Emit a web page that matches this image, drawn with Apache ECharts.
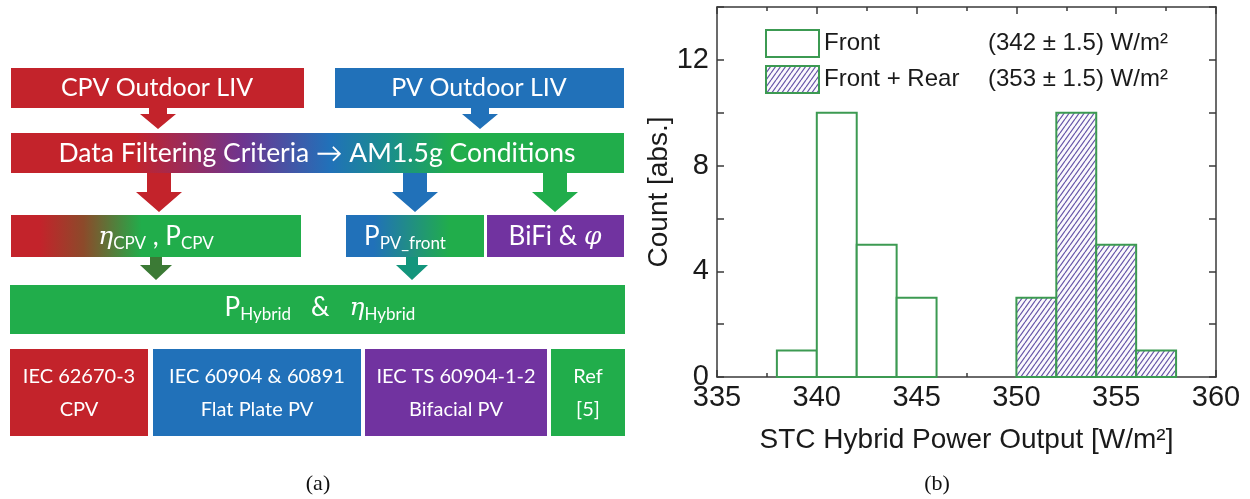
<!DOCTYPE html>
<html>
<head>
<meta charset="utf-8">
<title>STC hybrid power output</title>
<script src="https://cdn.jsdelivr.net/npm/echarts@6.0.0/dist/echarts.min.js"></script>
<style>
  html, body { margin: 0; padding: 0; background: #fff; }
  #chart { width: 1250px; height: 499px; }
</style>
</head>
<body>
<div id="chart"></div>
<script>
// histogram data, bins of 2 W/m2
const binWidth = 2;
const frontStarts = [338, 340, 342, 344];
const frontCounts = [1, 10, 5, 3];
const rearStarts = [350, 352, 354, 356];
const rearCounts = [3, 10, 5, 1];
const seriesNames = ['Front', 'Front + Rear'];
const seriesMeans = ['(342 ± 1.5) W/m²', '(353 ± 1.5) W/m²'];

// flowchart texts
const topBoxes = ['CPV Outdoor LIV', 'PV Outdoor LIV'];
const filterText = 'Data Filtering Criteria → AM1.5g Conditions';
const standards = [
    ['IEC 62670-3', 'CPV'],
    ['IEC 60904 & 60891', 'Flat Plate PV'],
    ['IEC TS 60904-1-2', 'Bifacial PV'],
    ['Ref', '[5]']
];

const RED = '#c3232b', BLUE = '#2171b9', GREEN = '#21ad4b', PURPLE = '#7133a0';
const BAR_GREEN = '#3c9a52';
const SANS = 'Lato';
const NUM = 'Liberation Sans';

function hatchPattern() {
    const c = document.createElement('canvas');
    c.width = 5; c.height = 7;
    const g = c.getContext('2d');
    g.fillStyle = '#fbf9fd';
    g.fillRect(0, 0, 5, 7);
    g.strokeStyle = '#6656a8';
    g.lineWidth = 1.2;
    g.beginPath();
    g.moveTo(-5, 7); g.lineTo(0, 0);
    g.moveTo(0, 7); g.lineTo(5, 0);
    g.moveTo(5, 7); g.lineTo(10, 0);
    g.stroke();
    return { image: c, repeat: 'repeat' };
}
const hatch = hatchPattern();

function toBins(starts, counts) {
    return starts.map((s, i) => [s, s + binWidth, counts[i]]);
}

function binRenderer(fill) {
    return function (params, api) {
        const top = api.coord([api.value(0), api.value(2)]);
        const bot = api.coord([api.value(1), 0]);
        return {
            type: 'rect',
            shape: { x: top[0], y: top[1], width: bot[0] - top[0], height: bot[1] - top[1] },
            style: { fill: fill, stroke: BAR_GREEN, lineWidth: 2 }
        };
    };
}

// ---- flowchart helpers (panel a) ----
function box(x, y, w, h, fill) {
    return { type: 'rect', shape: { x: x, y: y, width: w, height: h }, style: { fill: fill } };
}
function hGrad(stops) {
    return new echarts.graphic.LinearGradient(0, 0, 1, 0,
        stops.map(s => ({ offset: s[0], color: s[1] })));
}
function arrow(cx, y0, y1, y2, sw, hw, fill) {
    return {
        type: 'polygon',
        shape: { points: [[cx - sw / 2, y0], [cx + sw / 2, y0], [cx + sw / 2, y1], [cx + hw / 2, y1],
            [cx, y2], [cx - hw / 2, y1], [cx - sw / 2, y1]] },
        style: { fill: fill }
    };
}
const richText = {
    m: { fill: '#fff', fontFamily: SANS, fontSize: 26, lineHeight: 30 },
    s: { fill: '#fff', fontFamily: SANS, fontSize: 17, lineHeight: 14, verticalAlign: 'bottom' },
    e: { fill: '#fff', fontFamily: 'DejaVu Serif', fontStyle: 'italic', fontSize: 25, lineHeight: 30 }
};
function label(x, y, text, size, rich) {
    return {
        type: 'text', z: 10,
        style: {
            x: x, y: y, text: text, fill: '#fff', fontFamily: SANS, fontSize: size || 25,
            align: 'center', verticalAlign: 'middle', rich: rich ? richText : undefined,
            lineHeight: 33
        }
    };
}

const flow = [
    box(11, 68, 293, 40, RED),
    box(335, 68, 289, 40, BLUE),
    label(157, 88, topBoxes[0]),
    label(479, 88, topBoxes[1]),
    arrow(158, 108, 114, 129, 18, 36, RED),
    arrow(480, 108, 114, 129, 18, 36, BLUE),

    box(11, 133, 613, 40, hGrad([[0, RED], [0.2, RED], [0.38, '#6d3590'], [0.52, BLUE], [0.62, '#1a8f8a'], [0.72, GREEN], [1, GREEN]])),
    label(317, 153, filterText, 26.5),
    arrow(159, 173, 192, 212, 24, 46, RED),
    arrow(415, 173, 192, 212, 24, 46, BLUE),
    arrow(555, 173, 192, 212, 24, 46, GREEN),

    box(11, 215, 290, 42, hGrad([[0, RED], [0.1, RED], [0.25, '#8c4a2a'], [0.45, GREEN], [1, GREEN]])),
    box(346, 215, 138, 42, hGrad([[0, BLUE], [0.2, BLUE], [0.75, GREEN], [1, GREEN]])),
    box(487, 215, 137, 42, PURPLE),
    label(156, 237, '{e|η}{s|CPV}{m| , P}{s|CPV}', 25, true),
    label(405, 237, '{m|P}{s|PV_front}', 25, true),
    label(555, 237, '{m|BiFi & }{e|φ}', 25, true),
    arrow(156, 257, 265, 280, 12, 32, '#3b7a35'),
    arrow(412, 257, 265, 280, 12, 32, '#13957c'),

    box(10, 285, 615, 49, GREEN),
    label(320, 308, '{m|P}{s|Hybrid}{m|   &   }{e|η}{s|Hybrid}', 25, true),

    box(10, 349, 138, 87, RED),
    box(153, 349, 208, 87, BLUE),
    box(365, 349, 182, 87, PURPLE),
    box(551, 349, 74, 87, GREEN)
];
const stdBoxes = [[10, 138], [153, 208], [365, 182], [551, 74]];
standards.forEach((lines, i) => {
    const b = stdBoxes[i];
    flow.push(label(b[0] + b[1] / 2, 393, lines.join('\n'), 20));
});

flow.push({ type: 'text', style: { x: 318, y: 484, text: '(a)', fontFamily: 'Liberation Serif', fontSize: 22, fill: '#111', align: 'center', verticalAlign: 'middle' } });
flow.push({ type: 'text', style: { x: 937, y: 484, text: '(b)', fontFamily: 'Liberation Serif', fontSize: 22, fill: '#111', align: 'center', verticalAlign: 'middle' } });

// ---- histogram (panel b) ----
const axisColor = '#3a3a3a';
const chart = echarts.init(document.getElementById('chart'), null, { renderer: 'canvas' });

const baseX = {
    type: 'value', min: 335, max: 360, interval: 5,
    axisLine: { show: true, onZero: false, lineStyle: { color: axisColor, width: 1.5 } },
    axisTick: { show: true, inside: true, length: 7, lineStyle: { color: axisColor, width: 1.5 } },
    minorTick: { show: true, splitNumber: 2, length: 4, lineStyle: { color: axisColor, width: 1.5 } },
    splitLine: { show: false }
};
const baseY = {
    type: 'value', min: 0, max: 14, interval: 2,
    axisLine: { show: true, onZero: false, lineStyle: { color: axisColor, width: 1.5 } },
    axisTick: { show: true, inside: true, length: 7, lineStyle: { color: axisColor, width: 1.5 } },
    splitLine: { show: false }
};

const option = {
    backgroundColor: '#fff',
    animation: false,
    grid: { left: 717, right: 34, top: 7, bottom: 122, containLabel: false },
    legend: {
        orient: 'vertical', left: 765, top: 29, padding: 0, itemGap: 7,
        itemWidth: 53, itemHeight: 27,
        data: [
            { name: seriesNames[0], icon: 'rect', itemStyle: { color: '#fff', borderColor: BAR_GREEN, borderWidth: 2 } },
            { name: seriesNames[1], icon: 'rect', itemStyle: { color: hatch, borderColor: BAR_GREEN, borderWidth: 2 } }
        ],
        formatter: function (name) {
            return '{n|' + name + '}{v|' + seriesMeans[seriesNames.indexOf(name)] + '}';
        },
        textStyle: {
            fontFamily: NUM, fontSize: 24, color: '#1a1a1a',
            rich: {
                n: { fontFamily: NUM, fontSize: 24, color: '#1a1a1a', width: 164 },
                v: { fontFamily: NUM, fontSize: 24, color: '#1a1a1a' }
            }
        }
    },
    xAxis: [
        Object.assign({}, baseX, {
            position: 'bottom',
            axisLabel: { fontFamily: NUM, fontSize: 29, color: '#1a1a1a', margin: 6 },
            name: 'STC Hybrid Power Output [W/m²]', nameLocation: 'middle', nameGap: 49,
            nameTextStyle: { fontFamily: NUM, fontSize: 28, color: '#1a1a1a' }
        }),
        Object.assign({}, baseX, { position: 'top', axisLabel: { show: false } })
    ],
    yAxis: [
        Object.assign({}, baseY, {
            position: 'left',
            axisLabel: {
                fontFamily: NUM, fontSize: 29, color: '#1a1a1a', margin: 8,
                formatter: v => (v % 4 === 0 && v < 14 ? String(v) : '')
            },
            name: 'Count [abs.]', nameLocation: 'middle', nameGap: 43,
            nameTextStyle: { fontFamily: NUM, fontSize: 28, color: '#1a1a1a' }
        }),
        Object.assign({}, baseY, { position: 'right', axisLabel: { show: false } })
    ],
    series: [
        {
            name: seriesNames[0], type: 'custom', xAxisIndex: 0, yAxisIndex: 0,
            renderItem: binRenderer('#fff'),
            encode: { x: [0, 1], y: 2 },
            data: toBins(frontStarts, frontCounts)
        },
        {
            name: seriesNames[1], type: 'custom', xAxisIndex: 0, yAxisIndex: 0,
            renderItem: binRenderer(hatch),
            encode: { x: [0, 1], y: 2 },
            data: toBins(rearStarts, rearCounts)
        }
    ],
    graphic: flow
};

chart.setOption(option);
</script>
</body>
</html>
